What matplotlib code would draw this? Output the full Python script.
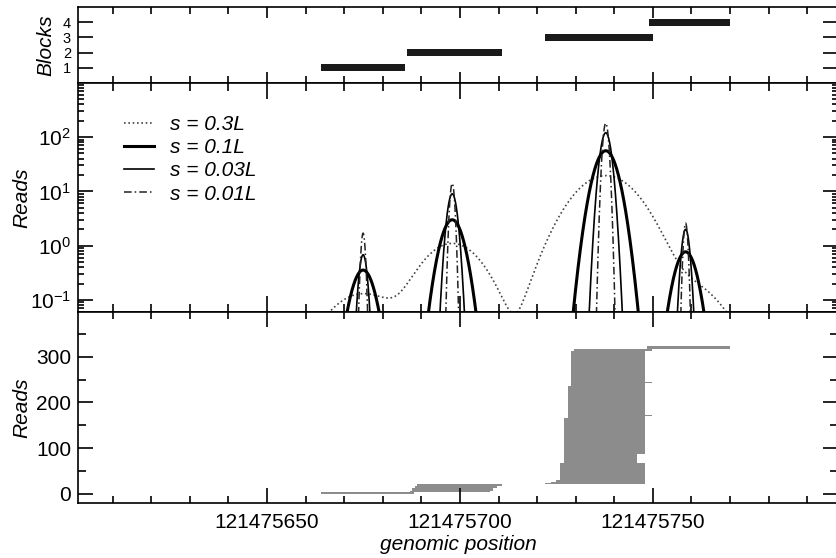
import numpy as np
import matplotlib
matplotlib.use('Agg')
import matplotlib.pyplot as plt
from matplotlib.ticker import MultipleLocator, FixedLocator, NullFormatter, LogLocator, ScalarFormatter

plt.rcParams['font.family'] = ['Liberation Sans', 'DejaVu Sans']
plt.rcParams['mathtext.fontset'] = 'custom'
plt.rcParams['mathtext.rm'] = 'Liberation Sans'
plt.rcParams['mathtext.it'] = 'Liberation Sans:italic'
plt.rcParams['mathtext.bf'] = 'Liberation Sans:bold'

# ---------------- data ----------------
# Blocks (top panel)
block_ids = [1, 2, 3, 4]
block_start = [121475664.0, 121475686.3, 121475722.0, 121475749.0]
block_end = [121475685.8, 121475710.9, 121475750.0, 121475770.0]

# Smoothed read densities (middle panel): one Gaussian bump per block
peak_centers = [121475674.9, 121475698.0, 121475737.8, 121475758.5]
series_labels = ['s = 0.3L', 's = 0.1L', 's = 0.03L', 's = 0.01L']
peaks_s030 = [0.13, 1.1, 19.5, 0.2]
sigma_s030 = [7.0, 6.0, 6.5, 6.8]
peaks_s010 = [0.355, 3.0, 56.0, 0.77]
sigma_s010 = [2.2, 2.2, 2.28, 2.1]
peaks_s003 = [0.68, 9.0, 120.0, 2.0]
sigma_s003 = [0.8, 1.0, 1.1, 0.8]
peaks_s001 = [1.7, 14.0, 180.0, 2.6]
sigma_s001 = [0.45, 0.5, 0.6, 0.45]

# Read pile-up (bottom panel): groups of reads stacked bottom to top
read_start = [121475664.0, 121475687.0, 121475687.6, 121475688.3, 121475689.0,
              121475722.0, 121475723.5, 121475724.8, 121475725.9, 121475727.0,
              121475727.0, 121475728.0, 121475728.0, 121475728.0, 121475728.9,
              121475728.9, 121475728.9, 121475729.5, 121475748.5]
read_end = [121475688.0, 121475707.8, 121475708.6, 121475709.6, 121475711.0,
            121475747.9, 121475747.9, 121475747.9, 121475747.9, 121475745.8,
            121475747.9, 121475747.9, 121475749.7, 121475747.9, 121475747.9,
            121475749.7, 121475747.9, 121475749.7, 121475770.0]
read_count = [3, 4, 5, 5, 4,
              3, 3, 4, 37, 19,
              79, 5, 2, 64, 6,
              2, 67, 5, 6]

x_ticks = [121475650, 121475700, 121475750]
x_range = (121475601, 121475798)

# ---------------- figure ----------------
W, H = 836, 558
fig = plt.figure(figsize=(W / 100, H / 100), dpi=100)
left = 78 / W
width = (838 - 78) / W

def frac(ytop, ybot):
    return [left, 1 - ybot / H, width, (ybot - ytop) / H]

ax_top = fig.add_axes(frac(7, 83))
ax_mid = fig.add_axes(frac(83, 312))
ax_bot = fig.add_axes(frac(312, 503))

FS = 15
for ax in (ax_top, ax_mid, ax_bot):
    ax.set_xlim(*x_range)
    ax.xaxis.set_major_locator(MultipleLocator(50))
    ax.xaxis.set_minor_locator(MultipleLocator(10))
    for sp in ax.spines.values():
        sp.set_linewidth(1.2)
    ax.tick_params(which='both', direction='in', top=True, right=True,
                   width=1.2, labelsize=FS, pad=5)

# top panel
ax_top.barh(block_ids, np.array(block_end) - np.array(block_start),
            left=block_start, height=0.45, color='#1a1a1a', linewidth=0)
ax_top.set_ylim(0, 5)
ax_top.yaxis.set_major_locator(FixedLocator([1, 2, 3, 4]))
ax_top.tick_params(axis='x', which='major', length=8)
ax_top.tick_params(axis='x', which='minor', length=5)
ax_top.tick_params(axis='y', which='major', length=11, labelsize=10.5)
ax_top.xaxis.set_major_formatter(NullFormatter())
ax_top.set_ylabel('Blocks', fontsize=FS, style='italic')
ax_top.yaxis.set_label_coords(-0.03, 0.5)

# middle panel
xs = np.linspace(x_range[0], x_range[1], 8000)

def density(peaks, sigmas):
    tot = np.zeros_like(xs)
    for c, p, s in zip(peak_centers, peaks, sigmas):
        tot += p * np.exp(-0.5 * ((xs - c) / s) ** 2)
    return tot

styles = [
    dict(color='#444444', lw=1.2, ls=(0, (1, 1.6))),
    dict(color='black', lw=2.2, ls='-'),
    dict(color='black', lw=1.2, ls='-'),
    dict(color='#222222', lw=1.1, ls=(0, (5, 2, 1, 2))),
]
series = [(peaks_s030, sigma_s030), (peaks_s010, sigma_s010),
          (peaks_s003, sigma_s003), (peaks_s001, sigma_s001)]
for (pk, sg), st, lab in zip(series, styles, series_labels):
    ax_mid.plot(xs, density(pk, sg), label=lab, **st)
ax_mid.set_yscale('log')
ax_mid.set_ylim(0.06, 990)
ax_mid.yaxis.set_major_locator(LogLocator(base=10, numticks=10))
ax_mid.yaxis.set_minor_locator(LogLocator(base=10, subs=np.arange(2, 10), numticks=10))
ax_mid.yaxis.set_minor_formatter(NullFormatter())
ax_mid.xaxis.set_major_formatter(NullFormatter())
ax_mid.tick_params(axis='x', which='major', length=11.5)
ax_mid.tick_params(axis='x', which='minor', length=5.8)
ax_mid.tick_params(axis='y', which='major', length=11)
ax_mid.tick_params(axis='y', which='minor', length=4.5)
ax_mid.set_ylabel('Reads', fontsize=FS, style='italic')
ax_mid.yaxis.set_label_coords(-0.062, 0.5)
leg = ax_mid.legend(loc='upper left', bbox_to_anchor=(0.06, 0.86), frameon=False,
                    prop=dict(size=FS, style='italic'), handlelength=1.45,
                    handletextpad=0.8, labelspacing=0.2, borderpad=0, borderaxespad=0)

# bottom panel
counts = np.array(read_count)
bottoms = np.concatenate([[0], np.cumsum(counts)[:-1]])
ax_bot.barh(bottoms + counts / 2.0, np.array(read_end) - np.array(read_start),
            left=read_start, height=counts, color='#8c8c8c', linewidth=0)
ax_bot.set_ylim(-20, 398)
ax_bot.yaxis.set_major_locator(MultipleLocator(100))
ax_bot.yaxis.set_minor_locator(MultipleLocator(50))
ax_bot.tick_params(axis='x', which='major', length=11)
ax_bot.tick_params(axis='x', which='minor', length=4.8)
ax_bot.tick_params(axis='y', which='major', length=11)
ax_bot.tick_params(axis='y', which='minor', length=5.8)
ax_bot.xaxis.set_major_locator(FixedLocator(x_ticks))
fmt = ScalarFormatter(useOffset=False)
fmt.set_scientific(False)
ax_bot.xaxis.set_major_formatter(fmt)
ax_bot.tick_params(axis='x', which='major', pad=7)
ax_bot.set_ylabel('Reads', fontsize=FS, style='italic')
ax_bot.yaxis.set_label_coords(-0.062, 0.5)
ax_bot.set_xlabel('genomic position', fontsize=FS, style='italic', labelpad=2)

fig.savefig('out.png', dpi=100)
